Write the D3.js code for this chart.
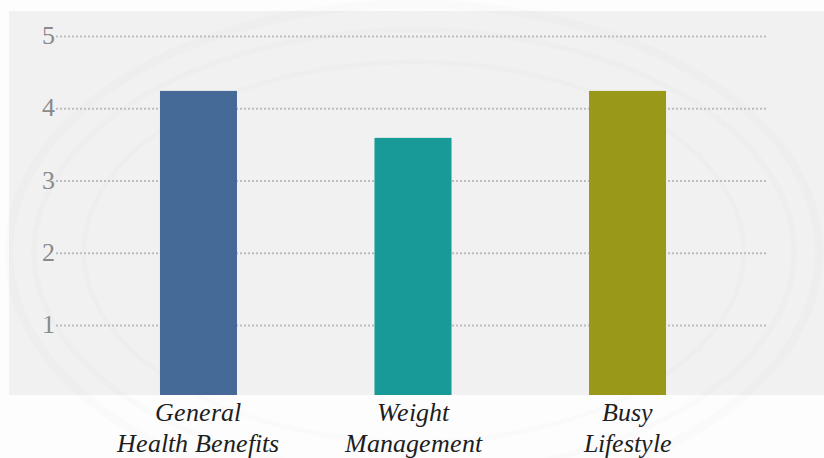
<!DOCTYPE html>
<html>
<head>
<meta charset="utf-8">
<script src="https://cdn.jsdelivr.net/npm/d3@7"></script>
<style>
  @font-face {
    font-family: "ChartSerif";
    font-style: normal;
    src: local("Liberation Serif"), local("LiberationSerif"), local("Liberation Serif Regular");
  }
  @font-face {
    font-family: "ChartSerif";
    font-style: italic;
    src: local("Liberation Serif Italic"), local("LiberationSerif-Italic");
  }
  html, body { margin: 0; padding: 0; background: #fdfdfd; }
  svg { display: block; }
</style>
</head>
<body>
<svg id="chart" width="824" height="458"></svg>
<script>
// Survey means per reason
const categories = [["General", "Health Benefits"], ["Weight", "Management"], ["Busy", "Lifestyle"]];
const values = [4.24, 3.59, 4.24];
const barColors = ["#466a98", "#179a98", "#999818"];
const yTicks = [1, 2, 3, 4, 5];

const W = 824, H = 458;
const panel = { x: 9, y: 11, w: 815, h: 384 };
const SERIF = '"ChartSerif", "Liberation Serif", "Times New Roman", serif';

const svg = d3.select("#chart");

// page background
svg.append("rect").attr("width", W).attr("height", H).attr("fill", "#fdfdfd");

// plot panel
svg.append("rect")
  .attr("x", panel.x).attr("y", panel.y)
  .attr("width", panel.w).attr("height", panel.h)
  .attr("fill", "#f1f1f1");

// faint seal rings in the background
const seal = svg.append("g").attr("fill", "none").attr("stroke", "#000");
[[405, 248, 9, 0.012], [380, 222, 6, 0.011], [330, 190, 5, 0.01]].forEach(([rx, ry, sw, op]) => {
  seal.append("ellipse")
    .attr("cx", 414).attr("cy", 252)
    .attr("rx", rx).attr("ry", ry)
    .attr("stroke-width", sw).attr("stroke-opacity", op);
});

const x = d3.scaleBand()
  .domain(d3.range(categories.length))
  .range([60, 766])
  .paddingInner(0.641)
  .paddingOuter(0.466);

const y = d3.scaleLinear().domain([0, 5]).range([397.25, 36]);

// dotted gridlines
const grid = svg.append("g")
  .attr("transform", "translate(56,0)")
  .call(d3.axisRight(y).tickValues(yTicks).tickSize(711).tickFormat(""));
grid.select(".domain").remove();
grid.selectAll(".tick line")
  .attr("stroke", "#bdbdbd")
  .attr("stroke-width", 2)
  .attr("stroke-dasharray", "2 2");

// bars, clipped to the panel
svg.append("clipPath").attr("id", "panel-clip")
  .append("rect")
  .attr("x", panel.x).attr("y", panel.y)
  .attr("width", panel.w).attr("height", panel.h);

svg.append("g").attr("clip-path", "url(#panel-clip)")
  .selectAll("rect")
  .data(values)
  .join("rect")
  .attr("x", (d, i) => x(i))
  .attr("width", x.bandwidth())
  .attr("y", d => y(d))
  .attr("height", d => y(0) - y(d))
  .attr("fill", (d, i) => barColors[i]);

// y tick labels
yTicks.forEach(v => {
  svg.append("text")
    .attr("x", 55)
    .attr("y", y(v) + 8)
    .attr("text-anchor", "end")
    .attr("fill", "#8a8a8a")
    .attr("font-family", SERIF)
    .style("font-family", SERIF)
    .style("font-size", "26px")
    .text(d3.format("d")(v));
});

// category labels
categories.forEach((lines, i) => {
  lines.forEach((line, j) => {
    svg.append("text")
      .attr("x", x(i) + x.bandwidth() / 2)
      .attr("y", 421 + j * 31)
      .attr("text-anchor", "middle")
      .attr("fill", "#1e1e1e")
      .attr("font-family", SERIF)
      .style("font-family", SERIF)
      .style("font-style", "italic")
      .style("font-size", "26px")
      .text(line);
  });
});
</script>
</body>
</html>
